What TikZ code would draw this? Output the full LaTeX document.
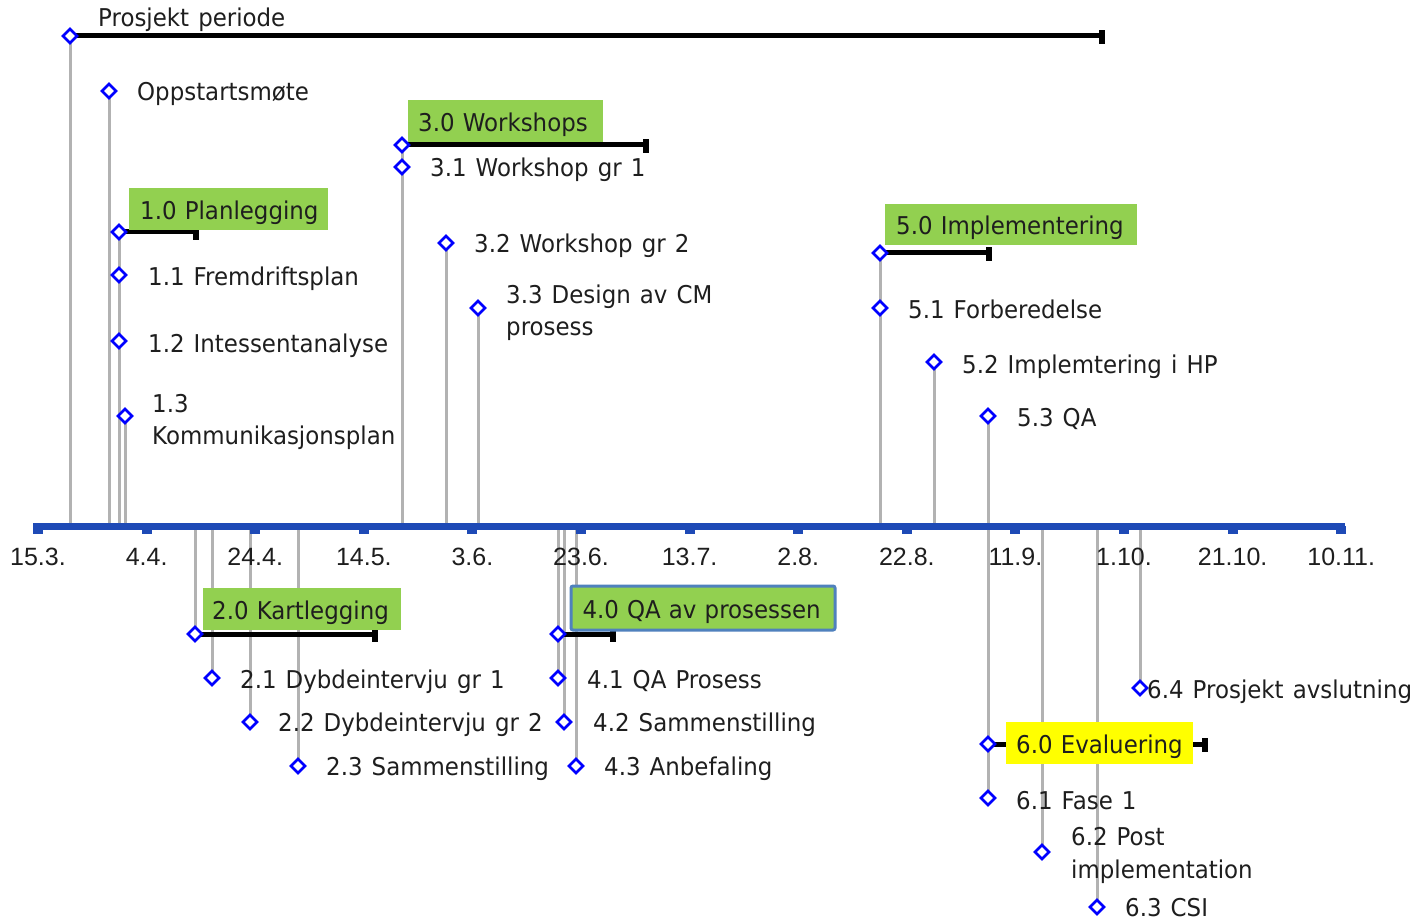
\documentclass[tikz,border=0pt]{standalone}
\usepackage{fontspec}
\setmainfont{DejaVu Sans}[FakeStretch=0.935, WordSpace=1.25]
\newfontfamily\axfont{Liberation Sans}
\usetikzlibrary{shapes.geometric}
\definecolor{axisblue}{RGB}{30,74,182}
\definecolor{mkblue}{RGB}{0,0,255}
\definecolor{stemgray}{RGB}{178,178,178}
\definecolor{boxgreen}{RGB}{146,208,80}
\definecolor{boxyellow}{RGB}{255,255,0}
\definecolor{boxborder}{RGB}{79,129,189}
\definecolor{txt}{RGB}{30,30,30}
\newcommand{\lblfont}{\fontsize{24.5}{30}\selectfont}
\newcommand{\axlblfont}{\axfont\fontsize{25}{30}\selectfont}
\begin{document}
\begin{tikzpicture}[x=1pt,y=-1pt,
  dia/.style={diamond, draw=mkblue, fill=white, line width=2.6pt, inner sep=0pt, minimum width=15pt, minimum height=15pt},
  stem/.style={draw=stemgray, line width=3pt},
  bar/.style={draw=black, line width=5pt},
  barcap/.style={fill=black, minimum width=6pt, minimum height=14pt, inner sep=0pt},
  axisline/.style={draw=axisblue, line width=7pt},
  lbl/.style={anchor=base west, inner sep=0pt, text=txt, font=\lblfont},
  axlbl/.style={anchor=base, inner sep=0pt, text=txt, font=\axlblfont},
  tbox/.style={inner ysep=0pt, text height=24pt, text depth=4pt, align=left, anchor=north west, text=txt, font=\lblfont}
]
\fill[white] (0,0) rectangle (1417,920);
\useasboundingbox (0,0) rectangle (1417,920);

% item positions
\coordinate (axT) at (0,523);
\coordinate (axB) at (0,529);
\coordinate (axL) at (33,526);
\coordinate (axR) at (1345,526);
\coordinate (pp) at (70,36);
\coordinate (op) at (109,91);
\coordinate (p10) at (119,232);
\coordinate (p11) at (119,275);
\coordinate (p12) at (119,341);
\coordinate (p13) at (125,416);
\coordinate (p30) at (402,145);
\coordinate (p31) at (402,167);
\coordinate (p32) at (446,243);
\coordinate (p33) at (478,308);
\coordinate (p50) at (880,253);
\coordinate (p51) at (880,308);
\coordinate (p52) at (934,362);
\coordinate (p53) at (988,416);
\coordinate (p20) at (195,634);
\coordinate (p21) at (212,678);
\coordinate (p22) at (250,722);
\coordinate (p23) at (298,766);
\coordinate (p40) at (558,634);
\coordinate (p41) at (558,678);
\coordinate (p42) at (564,722);
\coordinate (p43) at (576,766);
\coordinate (p60) at (988,744);
\coordinate (p61) at (988,798);
\coordinate (p62) at (1042,852);
\coordinate (p63) at (1097,907);
\coordinate (p64) at (1140,688);
% bar ends
\coordinate (ppE) at (1102,36);
\coordinate (p10E) at (196,232);
\coordinate (p30E) at (646,145);
\coordinate (p50E) at (989,253);
\coordinate (p20E) at (375,634);
\coordinate (p40E) at (613,634);
\coordinate (p60E) at (1205,744);

% stems
\foreach \p in {pp,op,p10,p13,p30,p32,p33,p50,p52,p53}
  \draw[stem] (\p) -- (\p |- axT);
\foreach \p in {p20,p21,p22,p23,p41,p42,p43,p61,p62,p63,p64}
  \draw[stem] (\p) -- (\p |- axB);

% axis
\draw[axisline] (axL) -- (axR);
\foreach \i in {0,...,12}
  \fill[axisblue] ({38+108.6*\i-5},526) rectangle ++(10,7.5);
\foreach \i/\t in {0/15.3.,1/4.4.,2/24.4.,3/14.5.,4/3.6.,5/23.6.,6/13.7.,7/2.8.,8/22.8.,9/11.9.,10/1.10.,11/21.10.,12/10.11.}
  \node[axlbl] (ax\i) at ({38+108.6*\i},565) {\t};

% bars
\foreach \p in {pp,p10,p30,p50,p20,p40,p60}{
  \draw[bar] (\p) -- (\p E);
  \node[barcap] (c\p) at ([yshift=-1pt]\p E) {};
}

% boxes
\node[tbox, fill=boxgreen, inner xsep=11pt, text width=177pt, minimum height=42pt] (b10) at (129,188) {\mbox{1.0 Planlegging}};
\node[tbox, fill=boxgreen, inner xsep=10pt, text width=175pt, minimum height=42pt] (b30) at (408,100) {\mbox{3.0 Workshops}};
\node[tbox, fill=boxgreen, inner xsep=11pt, text width=230pt, minimum height=41pt] (b50) at (885,204) {\mbox{5.0 Implementering}};
\node[tbox, fill=boxgreen, inner xsep=9pt, text width=180pt, minimum height=42pt] (b20) at (203,588) {\mbox{2.0 Kartlegging}};
\node[tbox, fill=boxgreen, draw=boxborder, line width=3pt, rounded corners=2pt, inner xsep=11.5pt, text width=241pt, minimum height=44pt] (b40) at (569.5,584.5) {\mbox{4.0 QA av prosessen}};
\node[tbox, fill=boxyellow, inner xsep=10pt, text width=167pt, minimum height=42pt] (b60) at (1006,722) {\mbox{6.0 Evaluering}};

% diamonds
\foreach \p in {pp,op,p10,p11,p12,p13,p30,p31,p32,p33,p50,p51,p52,p53,p20,p21,p22,p23,p40,p41,p42,p43,p60,p61,p62,p63,p64}
  \node[dia] (d\p) at (\p) {};

% labels
\node[lbl] (tpp) at (98,27) {Prosjekt periode};
\node[lbl] (top) at (137,101) {Oppstartsmøte};
\node[lbl] (t11) at (148,286) {1.1 Fremdriftsplan};
\node[lbl] (t12) at (148,352) {1.2 Intessentanalyse};
\node[lbl] (t13a) at (152,412) {1.3};
\node[lbl] (t13b) at (152,444) {Kommunikasjonsplan};
\node[lbl] (t31) at (430,177) {3.1 Workshop gr 1};
\node[lbl] (t32) at (474,253) {3.2 Workshop gr 2};
\node[lbl] (t33a) at (506,303) {3.3 Design av CM};
\node[lbl] (t33b) at (506,335) {prosess};
\node[lbl] (t51) at (908,318) {5.1 Forberedelse};
\node[lbl] (t52) at (962,373) {5.2 Implemtering i HP};
\node[lbl] (t53) at (1017,426) {5.3 QA};
\node[lbl] (t21) at (240,688) {2.1 Dybdeintervju gr 1};
\node[lbl] (t22) at (278,731) {2.2 Dybdeintervju gr 2};
\node[lbl] (t23) at (326,775) {2.3 Sammenstilling};
\node[lbl] (t41) at (587,688) {4.1 QA Prosess};
\node[lbl] (t42) at (593,731) {4.2 Sammenstilling};
\node[lbl] (t43) at (604,775) {4.3 Anbefaling};
\node[lbl] (t61) at (1016,809) {6.1 Fase 1};
\node[lbl] (t62a) at (1071,845) {6.2 Post};
\node[lbl] (t62b) at (1071,878) {implementation};
\node[lbl] (t63) at (1125,916) {6.3 CSI};
\node[lbl] (t64) at (1147,698) {6.4 Prosjekt avslutning};
\end{tikzpicture}
\end{document}
